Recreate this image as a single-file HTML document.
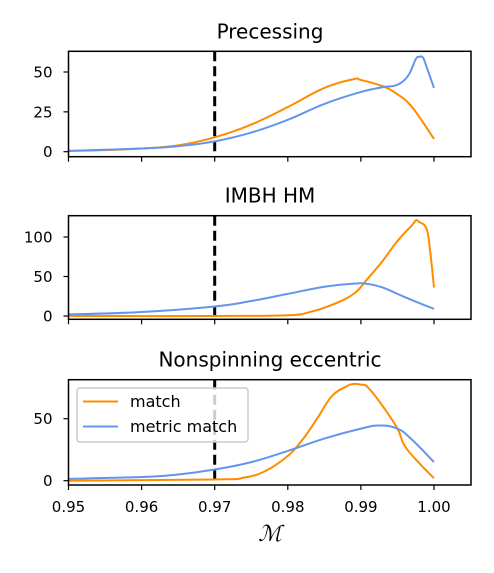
<!DOCTYPE html>
<html><head><meta charset="utf-8"><style>
body{margin:0;background:#fff;}
svg text{font-family:"DejaVu Sans","Liberation Sans",sans-serif;fill:#000;}
</style></head><body>
<svg id="chart" width="494" height="568" xmlns="http://www.w3.org/2000/svg"></svg>
<script>
const xTicks=[0.95,0.96,0.97,0.98,0.99,1.00];
const xTickLabels=["0.95","0.96","0.97","0.98","0.99","1.00"];
const titles=["Precessing","IMBH HM","Nonspinning eccentric"];
const yTicks1=[0,25,50], yTicks2=[0,50,100], yTicks3=[0,50];
const p1MatchX=[0.95,0.955,0.96,0.965,0.97,0.975,0.98,0.985,0.989,0.99,0.993,0.995,0.997,1.0];
const p1MatchY=[0.5,1,2,4,9,17,28,40,45.5,45,41,36,28,8];
const p1MetricX=[0.95,0.96,0.965,0.97,0.975,0.98,0.985,0.99,0.993,0.995,0.9965,0.9975,0.998,0.9985,0.999,1.0];
const p1MetricY=[0.5,2,3.5,6.5,12,20,30,37.5,40.5,42,48,58,59.5,59,53,40];
const p2MatchX=[0.95,0.97,0.98,0.983,0.986,0.989,0.991,0.993,0.995,0.997,0.9975,0.998,0.999,0.9995,1.0];
const p2MatchY=[0,0,1,5,14,28,48,70,95,115,121,119,110,80,36];
const p2MetricX=[0.95,0.96,0.97,0.975,0.98,0.985,0.989,0.991,0.993,0.995,0.997,1.0];
const p2MetricY=[2,5,12,19,28,37,41,40.5,36,28,20,9];
const p3MatchX=[0.95,0.97,0.974,0.977,0.98,0.982,0.984,0.986,0.988,0.989,0.990,0.991,0.993,0.995,0.996,0.998,1.0];
const p3MatchY=[0,1,2.5,8,20,33,50,68,76,78,77.5,75,60,42,28,14,2];
const p3MetricX=[0.95,0.96,0.965,0.97,0.975,0.98,0.985,0.99,0.9925,0.995,0.997,1.0];
const p3MetricY=[1.5,3,5,9,15,24,34,42,44.5,42,33,15];

const NS="http://www.w3.org/2000/svg";
const svg=document.getElementById('chart');
const L=68.5,R=471;
const X=v=>L+(v-0.95)/0.05*365.5;
function mk(tag,attrs,parent){const e=document.createElementNS(NS,tag);for(const k in attrs)e.setAttribute(k,attrs[k]);(parent||svg).appendChild(e);return e;}
function smooth(pts){
 let d='M'+pts[0][0].toFixed(2)+','+pts[0][1].toFixed(2);
 for(let i=0;i<pts.length-1;i++){
  const p0=pts[Math.max(0,i-1)],p1=pts[i],p2=pts[i+1],p3=pts[Math.min(pts.length-1,i+2)];
  const t=0.2;
  const c1=[p1[0]+(p2[0]-p0[0])*t,p1[1]+(p2[1]-p0[1])*t];
  const c2=[p2[0]-(p3[0]-p1[0])*t,p2[1]-(p3[1]-p1[1])*t];
  d+=' C'+c1.map(v=>v.toFixed(2)).join(',')+' '+c2.map(v=>v.toFixed(2)).join(',')+' '+p2[0].toFixed(2)+','+p2[1].toFixed(2);
 }
 return d;
}
const panels=[
 {top:51.3,bot:156.7,y0:151.7,ppu:1.594,yt:yTicks1,series:[[p1MatchX,p1MatchY,'#ff8c00','match'],[p1MetricX,p1MetricY,'#6495ed','metric-match']]},
 {top:215.7,bot:319.3,y0:316,ppu:0.79,yt:yTicks2,series:[[p2MatchX,p2MatchY,'#ff8c00','match'],[p2MetricX,p2MetricY,'#6495ed','metric-match']]},
 {top:379.7,bot:485,y0:480.7,ppu:1.24,yt:yTicks3,series:[[p3MatchX,p3MatchY,'#ff8c00','match'],[p3MetricX,p3MetricY,'#6495ed','metric-match']]}
];
panels.forEach((p,i)=>{
 const g=mk('g',{});
 
 
 const Y=v=>p.y0-v*p.ppu;
 const t=mk('text',{x:270,y:p.top-13,'text-anchor':'middle','font-size':'20'},g);t.textContent=titles[i];
 
 
 mk('line',{x1:X(0.97),x2:X(0.97),y1:p.top,y2:p.bot,stroke:'#000','stroke-width':3,'stroke-dasharray':'10,5'},g);
 p.series.forEach(s=>{
  const pts=s[0].map((x,j)=>[X(x),Y(s[1][j])]);
  const path=mk('path',{d:smooth(pts),fill:'none',stroke:s[2],'stroke-width':2,'stroke-linejoin':'round'},g);
  
  
 });
 mk('rect',{x:L,y:p.top,width:R-L,height:p.bot-p.top,fill:'none',stroke:'#000','stroke-width':1.5},g);
 p.yt.forEach(v=>{
  mk('line',{x1:L-5,x2:L,y1:Y(v),y2:Y(v),stroke:'#000','stroke-width':1.2},g);
  const tt=mk('text',{x:L-16,y:Y(v)+5.5,'text-anchor':'end','font-size':'15'},g);tt.textContent=v;
  
  
 });
 xTicks.forEach((v,j)=>{
  mk('line',{x1:X(v),x2:X(v),y1:p.bot,y2:p.bot+5,stroke:'#000','stroke-width':1.2},g);
  if(i===2){const tt=mk('text',{x:X(v),y:p.bot+27,'text-anchor':'middle','font-size':'15'},g);tt.textContent=xTickLabels[j];
   
   }
 });
});
const xl=mk('text',{x:270,y:541,'text-anchor':'middle','font-size':'22','font-style':'italic',style:'font-family:"DejaVu Serif","Liberation Serif",serif'});
xl.textContent='ℳ';


const lg=mk('g',{});


mk('rect',{x:77,y:388,width:171,height:54,rx:3,fill:'#fff','fill-opacity':0.8,stroke:'#ccc','stroke-width':1.5},lg);
[['match','#ff8c00',401.5],['metric match','#6495ed',426.5]].forEach(e=>{
 mk('line',{x1:83,x2:118,y1:e[2],y2:e[2],stroke:e[1],'stroke-width':2},lg);
 const t=mk('text',{x:130,y:e[2]+5.5,'font-size':'16'},lg);t.textContent=e[0];
 
 
});
</script>
</body></html>
